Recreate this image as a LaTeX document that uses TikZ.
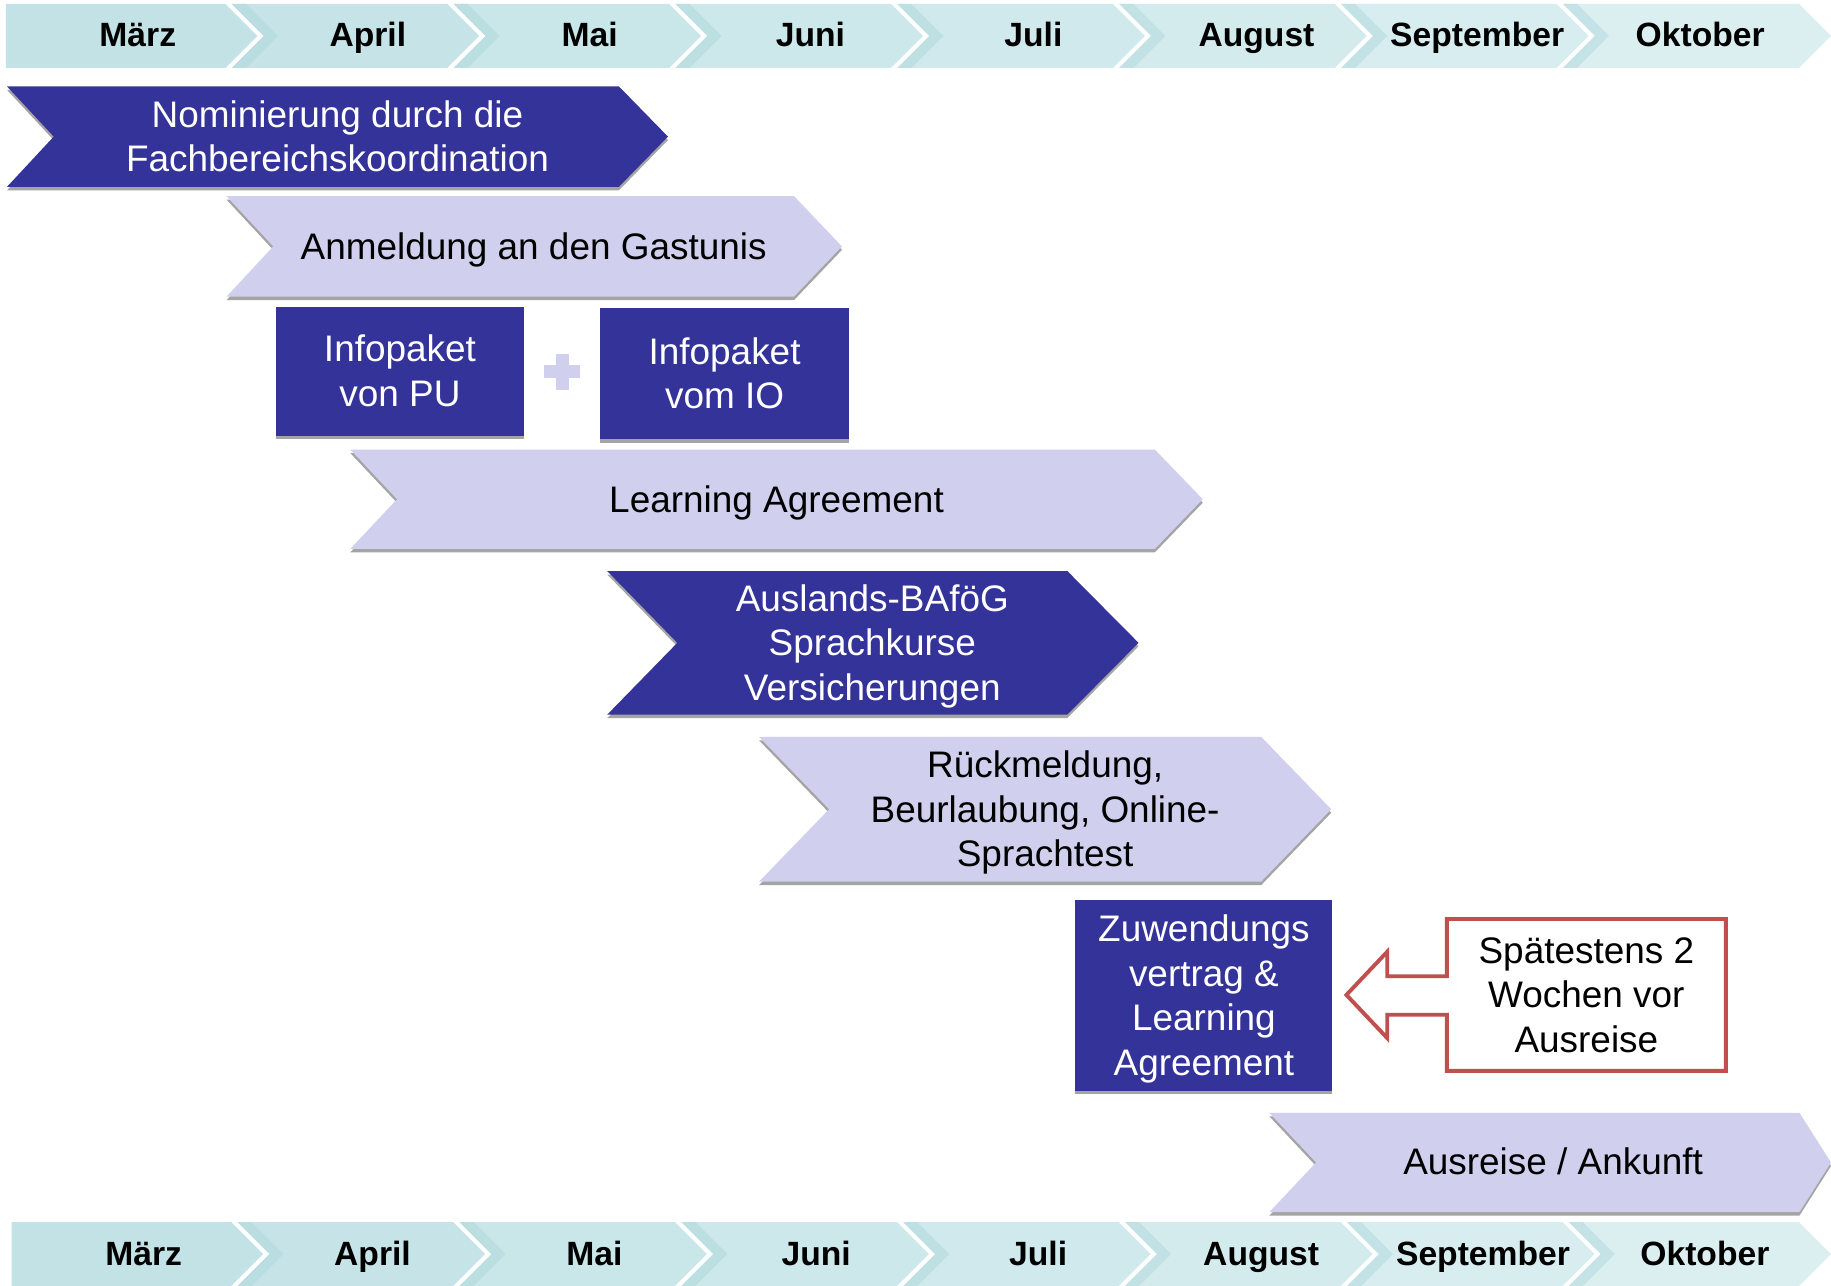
\documentclass[tikz,border=0pt]{standalone}
\usepackage{fontspec}
\setmainfont{Liberation Sans}
\definecolor{dkblue}{HTML}{343399}
\definecolor{lav}{HTML}{D0D0EE}
\definecolor{shd}{HTML}{A4A4A4}
\definecolor{calred}{HTML}{C0504D}
\definecolor{tealA}{HTML}{C2E2E5}
\definecolor{tealB}{HTML}{DBEFF1}
\definecolor{tealS}{HTML}{A9D5D9}
\newcommand\ps{\rule[-0.212em]{0pt}{1.117em}}
\newcommand\ptfont{\fontsize{18}{21.7}\selectfont}
\newcommand\mfont{\fontsize{16.4}{19}\selectfont\bfseries}
% #1 left, #2 right-top x, #3 top, #4 bottom, #5 notch depth, #6 tip depth, #7 fill
\newcommand\chev[7]{%
  \fill[shd] (#1,#3+3) -- (#2,#3+3) -- ({#2+#6},{(#3+#4)/2+3}) -- (#2,#4+3) -- (#1,#4+3) -- ({#1+#5},{(#3+#4)/2+3}) -- cycle;
  \fill[#7] (#1,#3) -- (#2,#3) -- ({#2+#6},{(#3+#4)/2}) -- (#2,#4) -- (#1,#4) -- ({#1+#5},{(#3+#4)/2}) -- cycle;}
% #1 top, #2 x shift, #3 bottom
\newcommand\monthband[3]{%
  \foreach \g [count=\i from 0, remember=\g as \gp (initially 0)] in {193,383,573,763,953,1143,1333,1540.6} {
    \pgfmathtruncatemacro\p{100*\i/7}
    \colorlet{segc}{tealB!\p!tealA}
    \pgfmathsetmacro\R{\i==7 ? 1540.6 : \g+#2}
    \pgfmathsetmacro\M{(#1+#3)/2}
    \ifnum\i=0
      \fill[segc] ({5+#2},#1) -- (\R,#1) -- ({\R+27.4},\M) -- (\R,#3) -- ({5+#2},#3) -- cycle;
    \else
      \pgfmathsetmacro\L{\gp+5.5+#2}
      \fill[segc] (\L,#1) -- (\R,#1) -- ({\R+27.4},\M) -- (\R,#3) -- (\L,#3) -- ({\L+27.4},\M) -- cycle;
      \fill[tealS!45!segc] (\L,#1) -- ({\L+12},#1) -- ({\L+39.4},\M) -- ({\L+12},#3) -- (\L,#3) -- ({\L+27.4},\M) -- cycle;
    \fi
  }}
\tikzset{
  ptext/.style={align=center, font=\ptfont, inner sep=0pt},
  wtext/.style={ptext, text=white},
  btext/.style={ptext, text=black},
  month/.style={anchor=base, font=\mfont, inner sep=0pt, text=black},
}
\begin{document}
\begin{tikzpicture}[x=0.02cm,y=-0.02cm]
\useasboundingbox (0,0) rectangle (1568,1101);
\fill[white] (0,0) rectangle (1568,1101);

% month bands
\monthband{3.4}{0}{58.2}
\monthband{1046.5}{5}{1101.3}
\foreach \x/\m [count=\k] in {118/März,315/April,505/Mai,694/Juni,885/Juli,1076/August,1265/September,1456/Oktober}
  \node[month] (mt\k) at (\x,40.2) {\m};
\foreach \x/\m [count=\k] in {123/März,319/April,509/Mai,699/Juni,889/Juli,1080/August,1270/September,1460/Oktober}
  \node[month] (mb\k) at (\x,1083.8) {\m};

% Nominierung
\chev{6}{530}{74}{160}{40}{42}{dkblue}
\node[wtext] (nom) at (289,117) {\ps Nominierung durch die\\\ps Fachbereichskoordination};

% Anmeldung
\chev{194}{680}{168}{254}{40}{41}{lav}
\node[btext] (anm) at (457,211) {\ps Anmeldung an den Gastunis};

% Infopakete
\fill[shd] (236,266) rectangle (449,376);
\fill[dkblue] (236,263) rectangle (449,373);
\node[wtext] (pu) at (342.5,318) {\ps Infopaket\\\ps von PU};
\fill[lav] (476,303) rectangle (487,334);
\fill[lav] (466,313) rectangle (497,324);
\fill[shd] (514,267) rectangle (727,379);
\fill[dkblue] (514,264) rectangle (727,376);
\node[wtext] (io) at (620.5,320) {\ps Infopaket\\\ps vom IO};

% Learning Agreement
\chev{300}{989}{385}{470}{40}{41}{lav}
\node[btext] (la) at (665,427.5) {\ps Learning Agreement};

% Auslands-BAfoeG
\chev{520}{914}{489}{612}{60}{61}{dkblue}
\node[wtext] (baf) at (747,550.5) {\ps Auslands-BAföG\\\ps Sprachkurse\\\ps Versicherungen};

% Rueckmeldung
\chev{650}{1080}{631}{755}{60}{60}{lav}
\node[btext] (rue) at (895,693) {\ps Rückmeldung,\\\ps Beurlaubung, Online-\\\ps Sprachtest};

% Zuwendungsvertrag
\fill[shd] (921,774) rectangle (1141,937);
\fill[dkblue] (921,771) rectangle (1141,934);
\node[wtext] (zuw) at (1031,852.5) {\ps Zuwendungs\\\ps vertrag \&\\\ps Learning\\\ps Agreement};

% Callout
\draw[calred, line width=1.9pt, fill=white] (1239,787) -- (1478,787) -- (1478,917) -- (1239,917) -- (1239,869) -- (1188,869) -- (1188,889) -- (1153,852) -- (1188,815) -- (1188,836) -- (1239,836) -- cycle;
\node[btext] (callout) at (1358.5,852) {\ps Spätestens 2\\\ps Wochen vor\\\ps Ausreise};

% Ausreise
\chev{1087}{1541}{953}{1038}{40}{27}{lav}
\node[btext] (aus) at (1330,995) {\ps Ausreise / Ankunft};
\end{tikzpicture}
\end{document}
